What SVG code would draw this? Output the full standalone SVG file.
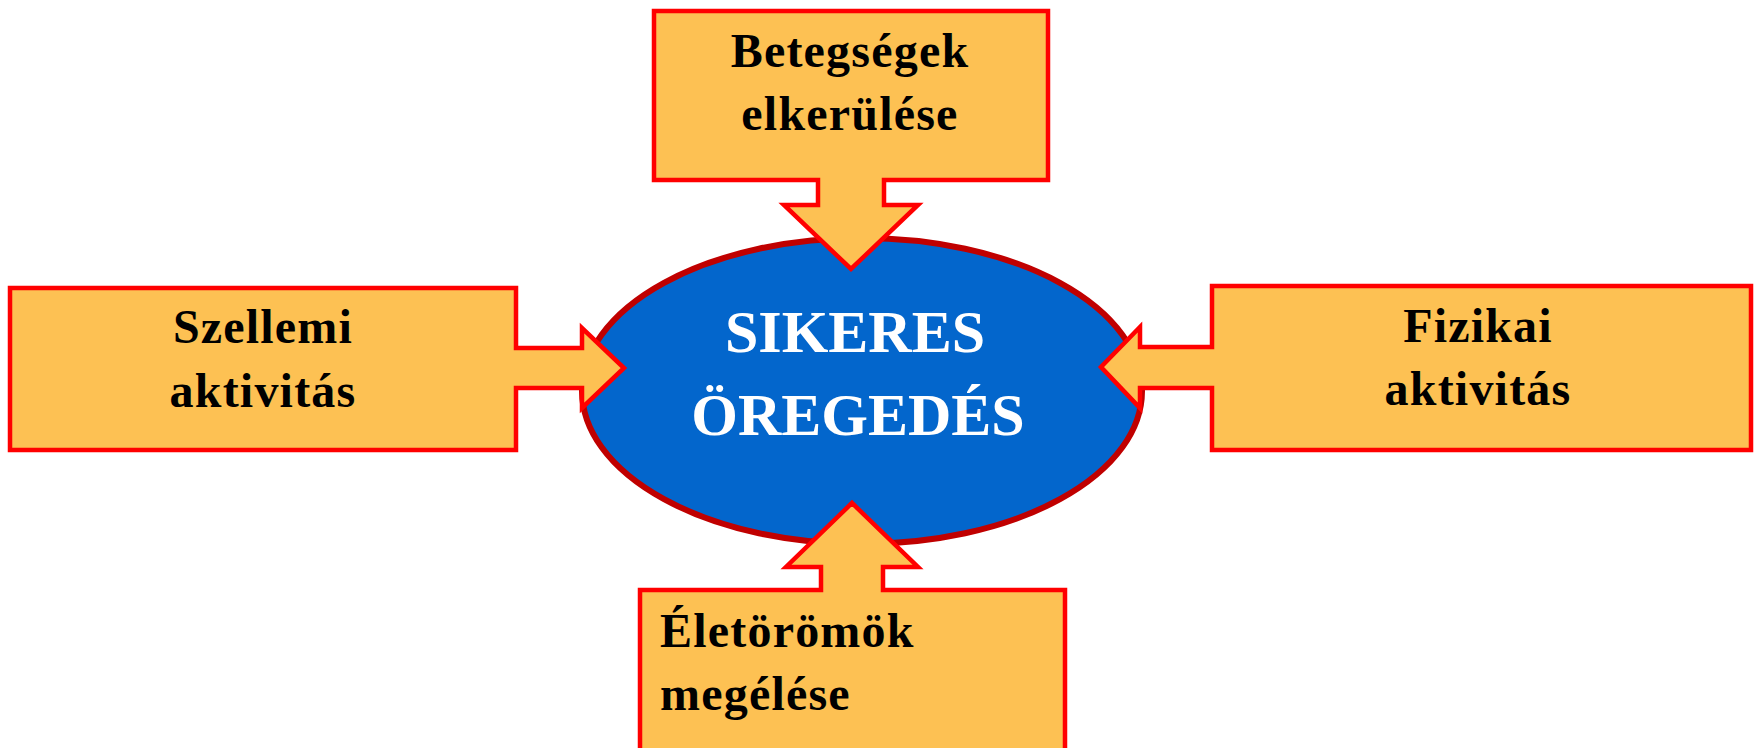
<svg xmlns="http://www.w3.org/2000/svg" width="1756" height="748" viewBox="0 0 1756 748">
<style>
.call{fill:#FDC153;stroke:#FF0000;stroke-width:4.5;stroke-linejoin:miter}
.lbl{font-family:"Liberation Serif","Times New Roman",serif;font-weight:bold;font-size:48px;fill:#000;letter-spacing:1.2px}
.ctr{font-family:"Liberation Serif","Times New Roman",serif;font-weight:bold;font-size:60px;fill:#fff;text-anchor:middle}
</style>
<rect width="1756" height="748" fill="#fff"/>
<g id="center">
<ellipse cx="862" cy="391" rx="280" ry="153" fill="#0366CC" stroke="#C00000" stroke-width="6"/>
<text class="ctr" x="855" y="352">SIKERES</text>
<text class="ctr" x="858" y="435">ÖREGEDÉS</text>
</g>
<g id="connectors"></g>
<g id="top">
<path class="call" d="M654,11 H1048 V180 H884 V205 H918 L851,269 L784,205 H818 V180 H654 Z"/>
<text class="lbl" x="850" y="67" text-anchor="middle">Betegségek</text>
<text class="lbl" x="850" y="130" text-anchor="middle">elkerülése</text>
</g>
<g id="left">
<path class="call" d="M10,288 H516 V348 H582 V328 L624,368 L582,408 V388 H516 V450 H10 Z"/>
<text class="lbl" x="263" y="343" text-anchor="middle">Szellemi</text>
<text class="lbl" x="263" y="407" text-anchor="middle">aktivitás</text>
</g>
<g id="right">
<path class="call" d="M1751,286 V450 H1212 V388 H1140 V408 L1101,367 L1140,327 V347 H1212 V286 Z"/>
<text class="lbl" x="1478" y="342" text-anchor="middle">Fizikai</text>
<text class="lbl" x="1478" y="405" text-anchor="middle">aktivitás</text>
</g>
<g id="bottom">
<path class="call" d="M640,590 H821 V567 H786 L852,503 L918,567 H883 V590 H1065 V760 H640 Z"/>
<text class="lbl" x="660" y="647">Életörömök</text>
<text class="lbl" x="660" y="710">megélése</text>
</g>
</svg>
